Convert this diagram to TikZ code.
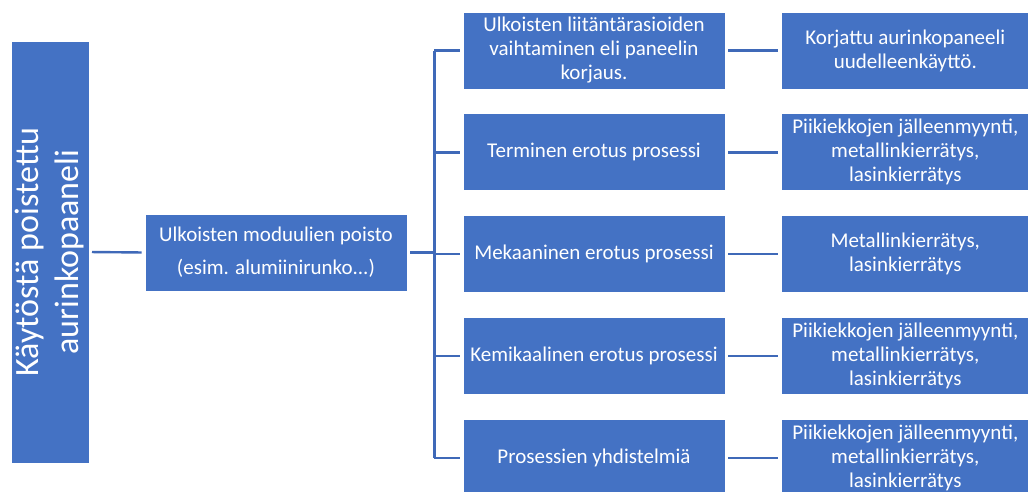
\documentclass[tikz,border=0pt]{standalone}
\usepackage{fontspec}
\setmainfont{Carlito}
\usepackage{tikz}
\usetikzlibrary{positioning, calc}

\definecolor{boxblue}{HTML}{4472C4}
\definecolor{lineblue}{HTML}{3F69B8}

\begin{document}
\begin{tikzpicture}[
  x=1pt, y=-1pt,
  node distance=24pt and 56pt,
  box/.style={rectangle, draw=white, line width=0.8pt, fill=boxblue, text=white, align=center,
    minimum width=262pt, minimum height=77pt, inner sep=1pt,
    font=\fontsize{21}{24}\selectfont},
  resbox/.style={box, minimum width=247pt},
  srcbox/.style={box, minimum width=422pt, minimum height=78pt, font=\fontsize{34}{40}\selectfont},
  link/.style={draw=lineblue, line width=2.4pt}
]
\useasboundingbox (0,0) rectangle (1030,491);
\clip (0,0) rectangle (1030,491);

\node (kaytosta) [srcbox, rotate=90] at (50,252) {Käytöstä poistettu\\aurinkopaaneli};
\node (poisto) [box] at (276,252.5) {Ulkoisten moduulien poisto\\[9pt](esim. alumiinirunko...)};

% prosessit
\node (korjaus) [box] at (594,50.5) {Ulkoisten liitäntärasioiden\\vaihtaminen eli paneelin\\korjaus.};
\node (terminen) [box, below=of korjaus] {Terminen erotus prosessi};
\node (mekaaninen) [box, below=of terminen] {Mekaaninen erotus prosessi};
\node (kemikaalinen) [box, below=of mekaaninen] {Kemikaalinen erotus prosessi};
\node (yhdistelma) [box, below=of kemikaalinen] {Prosessien yhdistelmiä};

% tulokset
\node (uudelleen) [resbox, right=of korjaus] {Korjattu aurinkopaneeli\\uudelleenkäyttö.};
\node (tulos1) [resbox, right=of terminen] {Piikiekkojen jälleenmyynti,\\metallinkierrätys,\\lasinkierrätys};
\node (tulos2) [resbox, right=of mekaaninen] {Metallinkierrätys,\\lasinkierrätys};
\node (tulos3) [resbox, right=of kemikaalinen] {Piikiekkojen jälleenmyynti,\\metallinkierrätys,\\lasinkierrätys};
\node (tulos4) [resbox, right=of yhdistelma] {Piikiekkojen jälleenmyynti,\\metallinkierrätys,\\lasinkierrätys};

\coordinate (bus) at ($(poisto.east)+(27,0)$);
\coordinate (bustop) at (bus |- korjaus.west);
\coordinate (busbot) at (bus |- yhdistelma.west);

\draw [link, shorten <=3pt, shorten >=3pt] (89,252) -- (poisto.west);
\draw [link, shorten <=3pt] (poisto.east) -- (bus);
\draw [link] (bustop) -- (busbot);
\draw [link, shorten >=3pt] (bustop) -- (korjaus.west);
\draw [link, shorten >=3pt] (bus |- terminen.west) -- (terminen.west);
\draw [link, shorten >=3pt] (bus |- mekaaninen.west) -- (mekaaninen.west);
\draw [link, shorten >=3pt] (bus |- kemikaalinen.west) -- (kemikaalinen.west);
\draw [link, shorten >=3pt] (busbot) -- (yhdistelma.west);

\draw [link, shorten <=3pt, shorten >=3pt] (korjaus) -- (uudelleen);
\draw [link, shorten <=3pt, shorten >=3pt] (terminen) -- (tulos1);
\draw [link, shorten <=3pt, shorten >=3pt] (mekaaninen) -- (tulos2);
\draw [link, shorten <=3pt, shorten >=3pt] (kemikaalinen) -- (tulos3);
\draw [link, shorten <=3pt, shorten >=3pt] (yhdistelma) -- (tulos4);
\end{tikzpicture}
\end{document}
